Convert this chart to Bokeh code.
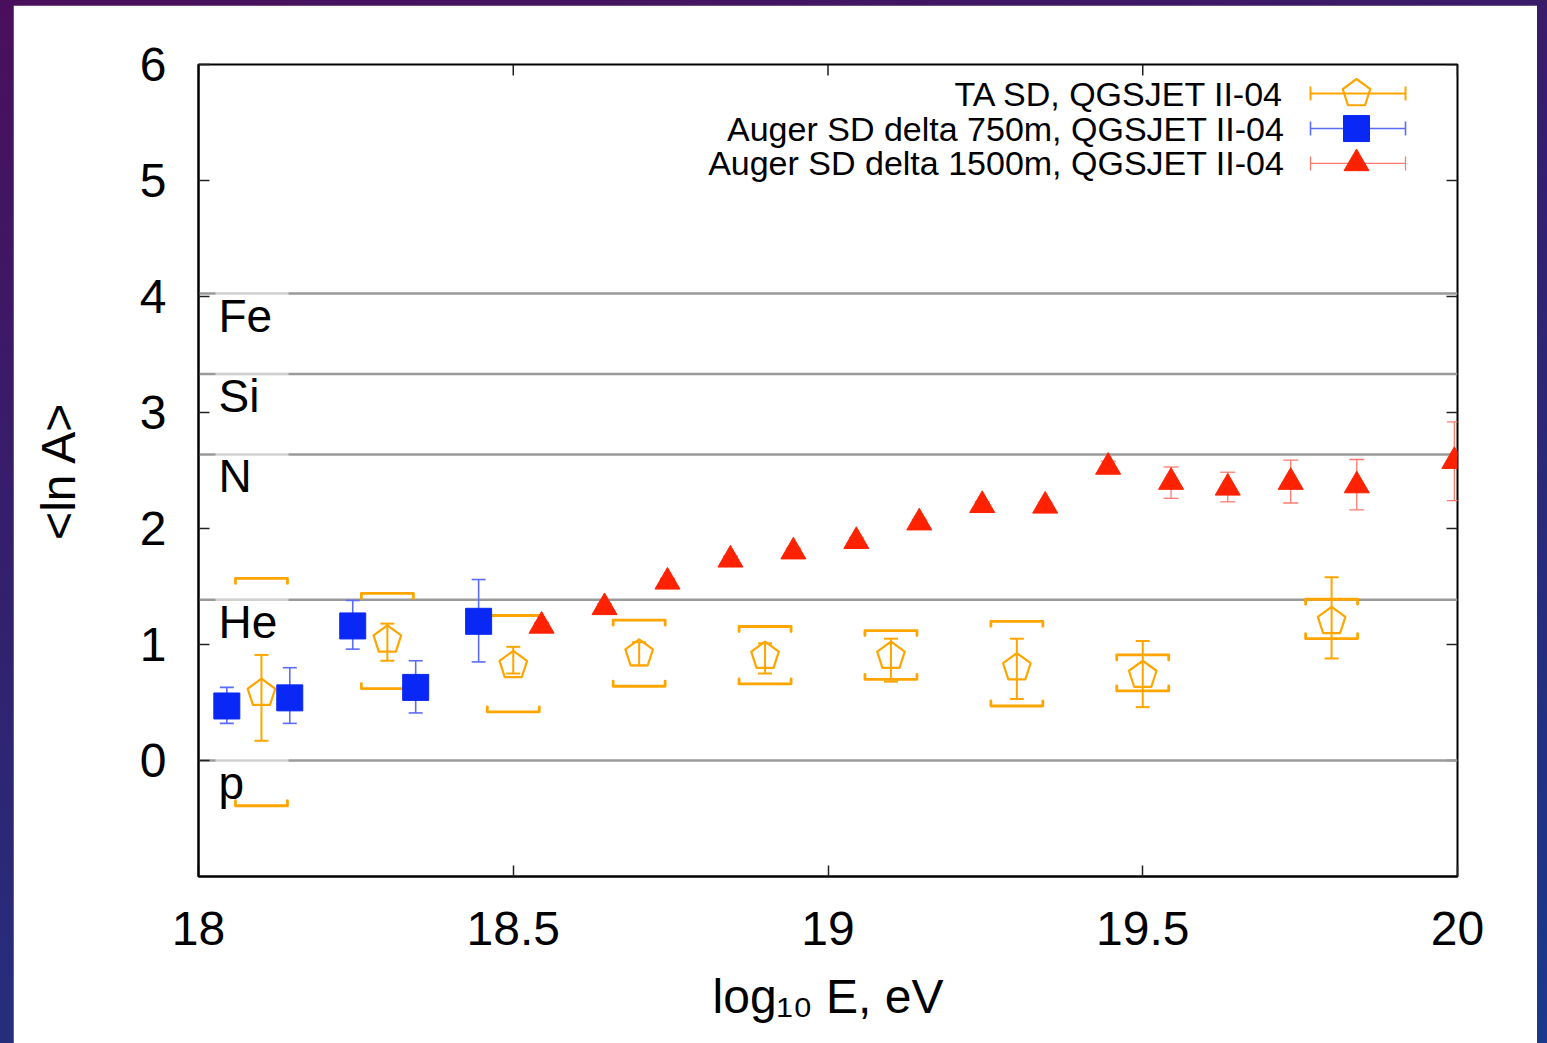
import numpy as np
from bokeh.plotting import figure
from bokeh.layouts import column
from bokeh.models import Range1d, FixedTicker
from bokeh.embed import file_html
from bokeh.resources import INLINE
from bokeh.core.properties import value

# ---------------- data ----------------
# TA SD, QGSJET II-04
ta_x = [18.1, 18.3, 18.5, 18.7, 18.9, 19.1, 19.3, 19.5, 19.8]
ta_y = [0.58, 1.04, 0.82, 0.92, 0.90, 0.90, 0.80, 0.735, 1.20]
ta_stat_hi = [0.91, 1.18, 0.98, 1.02, 1.01, 1.05, 1.05, 1.03, 1.58]
ta_stat_lo = [0.17, 0.86, 0.75, 0.82, 0.75, 0.68, 0.53, 0.46, 0.88]
ta_sys_hi = [1.57, 1.44, 1.25, 1.21, 1.155, 1.12, 1.20, 0.91, 1.39]
ta_sys_lo = [-0.39, 0.62, 0.42, 0.64, 0.66, 0.70, 0.47, 0.60, 1.05]

# Auger SD delta 750m, QGSJET II-04
a750_x = [18.045, 18.145, 18.245, 18.345, 18.445]
a750_y = [0.47, 0.54, 1.16, 0.63, 1.20]
a750_hi = [0.63, 0.80, 1.38, 0.86, 1.56]
a750_lo = [0.32, 0.32, 0.96, 0.41, 0.85]

# Auger SD delta 1500m, QGSJET II-04
a1500_x = [18.545, 18.645, 18.745, 18.845, 18.945, 19.045, 19.145, 19.245,
           19.345, 19.445, 19.545, 19.635, 19.735, 19.84, 19.995]
a1500_y = [1.16, 1.32, 1.54, 1.73, 1.80, 1.89, 2.05, 2.20,
           2.195, 2.53, 2.40, 2.35, 2.40, 2.37, 2.58]
a1500_hi = [1.19, 1.35, 1.57, 1.76, 1.83, 1.92, 2.08, 2.23,
            2.225, 2.58, 2.53, 2.485, 2.59, 2.595, 2.92]
a1500_lo = [1.13, 1.29, 1.51, 1.70, 1.77, 1.86, 2.02, 2.17,
            2.165, 2.48, 2.26, 2.23, 2.22, 2.16, 2.24]

# reference nuclei
elem_names = ["p", "He", "N", "Si", "Fe"]
elem_lnA = [0.0, 1.386, 2.639, 3.332, 4.025]

# axes
x_ticks = [18, 18.5, 19, 19.5, 20]
x_tick_labels = ["18", "18.5", "19", "19.5", "20"]
y_ticks = [0, 1, 2, 3, 4, 5, 6]
y_tick_labels = ["0", "1", "2", "3", "4", "5", "6"]
x_title = "log\u2081\u2080 E, eV"
y_title = "<ln A>"

legend_labels = ["TA SD, QGSJET II-04",
                 "Auger SD delta 750m, QGSJET II-04",
                 "Auger SD delta 1500m, QGSJET II-04"]

# ---------------- style ----------------
FONT = "Liberation Sans"
ORANGE = "#ffa500"
BLUE = "#0a28f5"
BLUE_ERR = "#5a6cff"
RED = "#ff2200"
RED_ERR = "#ff7a6e"
GRAY = "#9a9a9a"

X0, X1, Y0, Y1 = 18.0, 20.0, -1.0, 6.0
FW, FH = 1259, 812
PXX = FW / (X1 - X0)
PXY = FH / (Y1 - Y0)

# page: dark slide background, white panel from x=13..1537, y=5..1043
M_TOP, M_RIGHT, M_BOTTOM, M_LEFT = 5, 10, 0, 13
p = figure(frame_width=FW, frame_height=FH,
           min_border_left=198 - M_LEFT, min_border_right=1537 - 1457,
           min_border_top=64 - M_TOP, min_border_bottom=1043 - 876,
           x_range=Range1d(X0, X1), y_range=Range1d(Y0, Y1),
           output_backend="svg", toolbar_location=None,
           background_fill_color="white", border_fill_color="white",
           margin=(M_TOP, M_RIGHT, M_BOTTOM, M_LEFT))
p.grid.visible = False
p.outline_line_color = "black"
p.outline_line_width = 2

for ax, ticks, labels in ((p.xaxis[0], x_ticks, x_tick_labels),
                          (p.yaxis[0], y_ticks, y_tick_labels)):
    ax.ticker = FixedTicker(ticks=ticks)
    ax.major_label_overrides = {t: l for t, l in zip(ticks, labels)}
    ax.axis_line_color = "black"
    ax.axis_line_width = 2
    ax.major_tick_in = 11
    ax.major_tick_out = 0
    ax.major_tick_line_width = 1.5
    ax.major_tick_line_color = "#222222"
    ax.minor_tick_line_color = None
    ax.major_label_text_font = FONT
    ax.major_label_text_font_size = "48px"
    ax.major_label_text_color = "black"
    ax.axis_label_text_font = FONT
    ax.axis_label_text_font_style = "normal"
    ax.axis_label_text_font_size = "48px"
    ax.axis_label_text_color = "black"

p.xaxis[0].major_label_standoff = 35
p.yaxis[0].major_label_standoff = 32
p.xaxis[0].axis_label = x_title
p.yaxis[0].axis_label = y_title
p.xaxis[0].axis_label_standoff = 22
p.yaxis[0].axis_label_standoff = 52

# mirrored ticks on top and right (gnuplot style)
TICK = 11
p.segment(x0=x_ticks, y0=[Y1] * len(x_ticks), x1=x_ticks,
          y1=[Y1 - TICK / PXY] * len(x_ticks), line_color="#222222",
          line_width=1.5)
p.segment(x0=[X1] * len(y_ticks), y0=y_ticks, x1=[X1 - TICK / PXX] * len(y_ticks),
          y1=y_ticks, line_color="#222222", line_width=1.5)

# ---------- element reference lines ----------
for lvl, name in zip(elem_lnA, elem_names):
    p.segment(x0=X0, y0=lvl, x1=X1, y1=lvl, line_color=GRAY, line_width=2.5)
    # lighter part behind the label (gnuplot label box)
    p.segment(x0=X0 + 17 / PXX, y0=lvl, x1=X0 + 90 / PXX, y1=lvl,
              line_color="white", line_alpha=0.55, line_width=3)
    p.text(x=[X0 + 20 / PXX], y=[lvl - 22 / PXY], text=[name],
           text_font=value(FONT), text_font_size="46px",
           text_align="left", text_baseline="alphabetic", text_color="black")

# ---------- helpers ----------
R_PENT = 14.5
ang = np.deg2rad(90 + 72 * np.arange(5))
pdx = R_PENT * np.cos(ang) / PXX
pdy = R_PENT * np.sin(ang) / PXY


def pentagons(xs, ys):
    px = [list(x + pdx) for x in xs]
    py = [list(y + pdy) for y in ys]
    p.patches(px, py, fill_alpha=0, line_color=ORANGE, line_width=2.2,
              line_join="round")


def errbars(xs, lo, hi, color, width, cap):
    p.segment(x0=xs, y0=lo, x1=xs, y1=hi, line_color=color, line_width=width)
    p.scatter(x=list(xs) + list(xs), y=list(lo) + list(hi), marker="dash",
              size=cap, line_color=color, line_width=width)


# ---------- TA SD ----------
BW = 26 / PXX      # half width of systematic bracket
BH = 5 / PXY       # hook length
up_xs, up_ys, lo_xs, lo_ys = [], [], [], []
for x, hi, lo in zip(ta_x, ta_sys_hi, ta_sys_lo):
    up_xs.append([x - BW, x - BW, x + BW, x + BW])
    up_ys.append([hi - BH, hi, hi, hi - BH])
    lo_xs.append([x - BW, x - BW, x + BW, x + BW])
    lo_ys.append([lo + BH, lo, lo, lo + BH])
p.multi_line(up_xs + lo_xs, up_ys + lo_ys, line_color=ORANGE, line_width=2.8,
             line_join="round", line_cap="round")
errbars(ta_x, ta_stat_lo, ta_stat_hi, ORANGE, 2, 14)
pentagons(ta_x, ta_y)

# ---------- Auger 750 m ----------
errbars(a750_x, a750_lo, a750_hi, BLUE_ERR, 1.6, 14)
p.scatter(a750_x, a750_y, marker="square", size=26, fill_color=BLUE,
          line_color=BLUE, line_width=1)

# ---------- Auger 1500 m ----------
errbars(a1500_x, a1500_lo, a1500_hi, RED_ERR, 1.3, 15)
p.scatter(a1500_x, a1500_y, marker="triangle", size=25, fill_color=RED,
          line_color=RED, line_width=1)

# ---------- legend (gnuplot style: text right, sample left) ----------
leg_y = [Y1 - 0.25, Y1 - 0.552, Y1 - 0.853]
leg_text_x = X0 + 1086 / PXX
leg_l = X0 + 1112 / PXX
leg_r = X0 + 1207 / PXX
leg_m = X0 + 1158 / PXX
leg_cols = [ORANGE, BLUE_ERR, RED_ERR]
leg_w = [2, 1.6, 1.3]
for yy, lab, col, w in zip(leg_y, legend_labels, leg_cols, leg_w):
    p.text(x=[leg_text_x], y=[yy], text=[lab], text_font=value(FONT),
           text_font_size="34px", text_align="right", text_baseline="middle",
           text_color="black")
    p.segment(x0=[leg_l], y0=[yy], x1=[leg_r], y1=[yy], line_color=col,
              line_width=w)
    p.scatter(x=[leg_l, leg_r], y=[yy, yy], marker="dash", angle=np.pi / 2,
              size=14, line_color=col, line_width=w)
pentagons([leg_m], [leg_y[0]])
p.scatter([leg_m], [leg_y[1]], marker="square", size=26, fill_color=BLUE,
          line_color=BLUE)
p.scatter([leg_m], [leg_y[2]], marker="triangle", size=25, fill_color=RED,
          line_color=RED)

page = column(p, styles={
    "background": "linear-gradient(165deg, #4a0f5c 0%, #33206e 40%, #1a3a8c 100%)"})

open("out.html", "w").write(file_html(page, INLINE))
